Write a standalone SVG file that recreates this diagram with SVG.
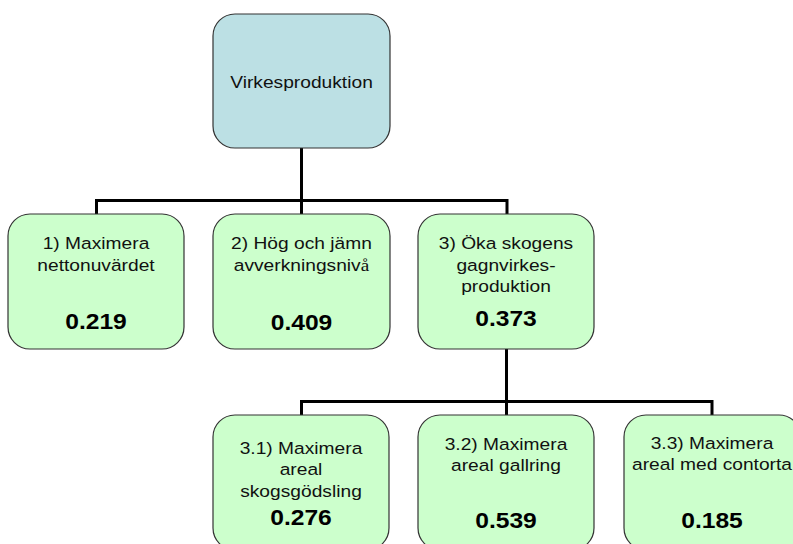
<svg xmlns="http://www.w3.org/2000/svg" width="793" height="544" viewBox="0 0 793 544">
<style>
.box{stroke:#333;stroke-width:1.2}
.root{fill:#BCE0E4}
.leaf{fill:#CCFFCC}
.t{font-family:"Liberation Sans",Arial,sans-serif;font-size:17px;fill:#111;text-anchor:middle}
.b{font-family:"Liberation Sans",Arial,sans-serif;font-size:22px;font-weight:bold;fill:#000;text-anchor:middle}
.c{fill:none;stroke:#000;stroke-width:3}
</style>
<rect width="793" height="544" fill="#fff"/>
<g id="connectors">
<path class="c" d="M301.5 148V200.5M96.5 214V200.5H507V214M301.5 200.5V214"/>
<path class="c" d="M506.5 349V401.5M301.5 415V401.5H712V415M506.5 401.5V415"/>
</g>
<g id="n0">
<rect class="box root" x="213" y="14" width="177" height="134" rx="22"/>
<text class="t" transform="translate(301.5 0) scale(1.13 1)" y="88.5">Virkesproduktion</text>
</g>
<g id="n1">
<rect class="box leaf" x="8" y="214" width="176" height="135" rx="22"/>
<text class="t" transform="translate(96 0) scale(1.13 1)" y="249.5">1) Maximera</text>
<text class="t" transform="translate(96 0) scale(1.13 1)" y="271">nettonuvärdet</text>
<text class="b" transform="translate(96 0) scale(1.12 1)" y="329">0.219</text>
</g>
<g id="n2">
<rect class="box leaf" x="213" y="214" width="177" height="135" rx="22"/>
<text class="t" transform="translate(301.5 0) scale(1.13 1)" y="249.5">2) Hög och jämn</text>
<text class="t" transform="translate(301.5 0) scale(1.13 1)" y="271">avverkningsniv<tspan font-family="Liberation Serif,serif">å</tspan></text>
<text class="b" transform="translate(301.5 0) scale(1.12 1)" y="330">0.409</text>
</g>
<g id="n3">
<rect class="box leaf" x="418" y="214" width="176" height="135" rx="22"/>
<text class="t" transform="translate(506 0) scale(1.13 1)" y="249.5">3) Öka skogens</text>
<text class="t" transform="translate(506 0) scale(1.13 1)" y="271">gagnvirkes-</text>
<text class="t" transform="translate(506 0) scale(1.13 1)" y="292.5">produktion</text>
<text class="b" transform="translate(506 0) scale(1.12 1)" y="326">0.373</text>
</g>
<g id="n31">
<rect class="box leaf" x="213" y="415" width="176" height="135" rx="22"/>
<text class="t" transform="translate(301 0) scale(1.13 1)" y="454">3.1) Maximera</text>
<text class="t" transform="translate(301 0) scale(1.13 1)" y="475.5">areal</text>
<text class="t" transform="translate(301 0) scale(1.13 1)" y="497">skogsgödsling</text>
<text class="b" transform="translate(301 0) scale(1.12 1)" y="525">0.276</text>
</g>
<g id="n32">
<rect class="box leaf" x="418" y="415" width="176" height="135" rx="22"/>
<text class="t" transform="translate(506 0) scale(1.13 1)" y="450">3.2) Maximera</text>
<text class="t" transform="translate(506 0) scale(1.13 1)" y="471.5">areal gallring</text>
<text class="b" transform="translate(506 0) scale(1.12 1)" y="528">0.539</text>
</g>
<g id="n33">
<rect class="box leaf" x="624" y="415" width="177" height="135" rx="22"/>
<text class="t" transform="translate(712 0) scale(1.13 1)" y="449">3.3) Maximera</text>
<text class="t" transform="translate(712 0) scale(1.13 1)" y="470.5">areal med contorta</text>
<text class="b" transform="translate(712 0) scale(1.12 1)" y="528">0.185</text>
</g>
</svg>
